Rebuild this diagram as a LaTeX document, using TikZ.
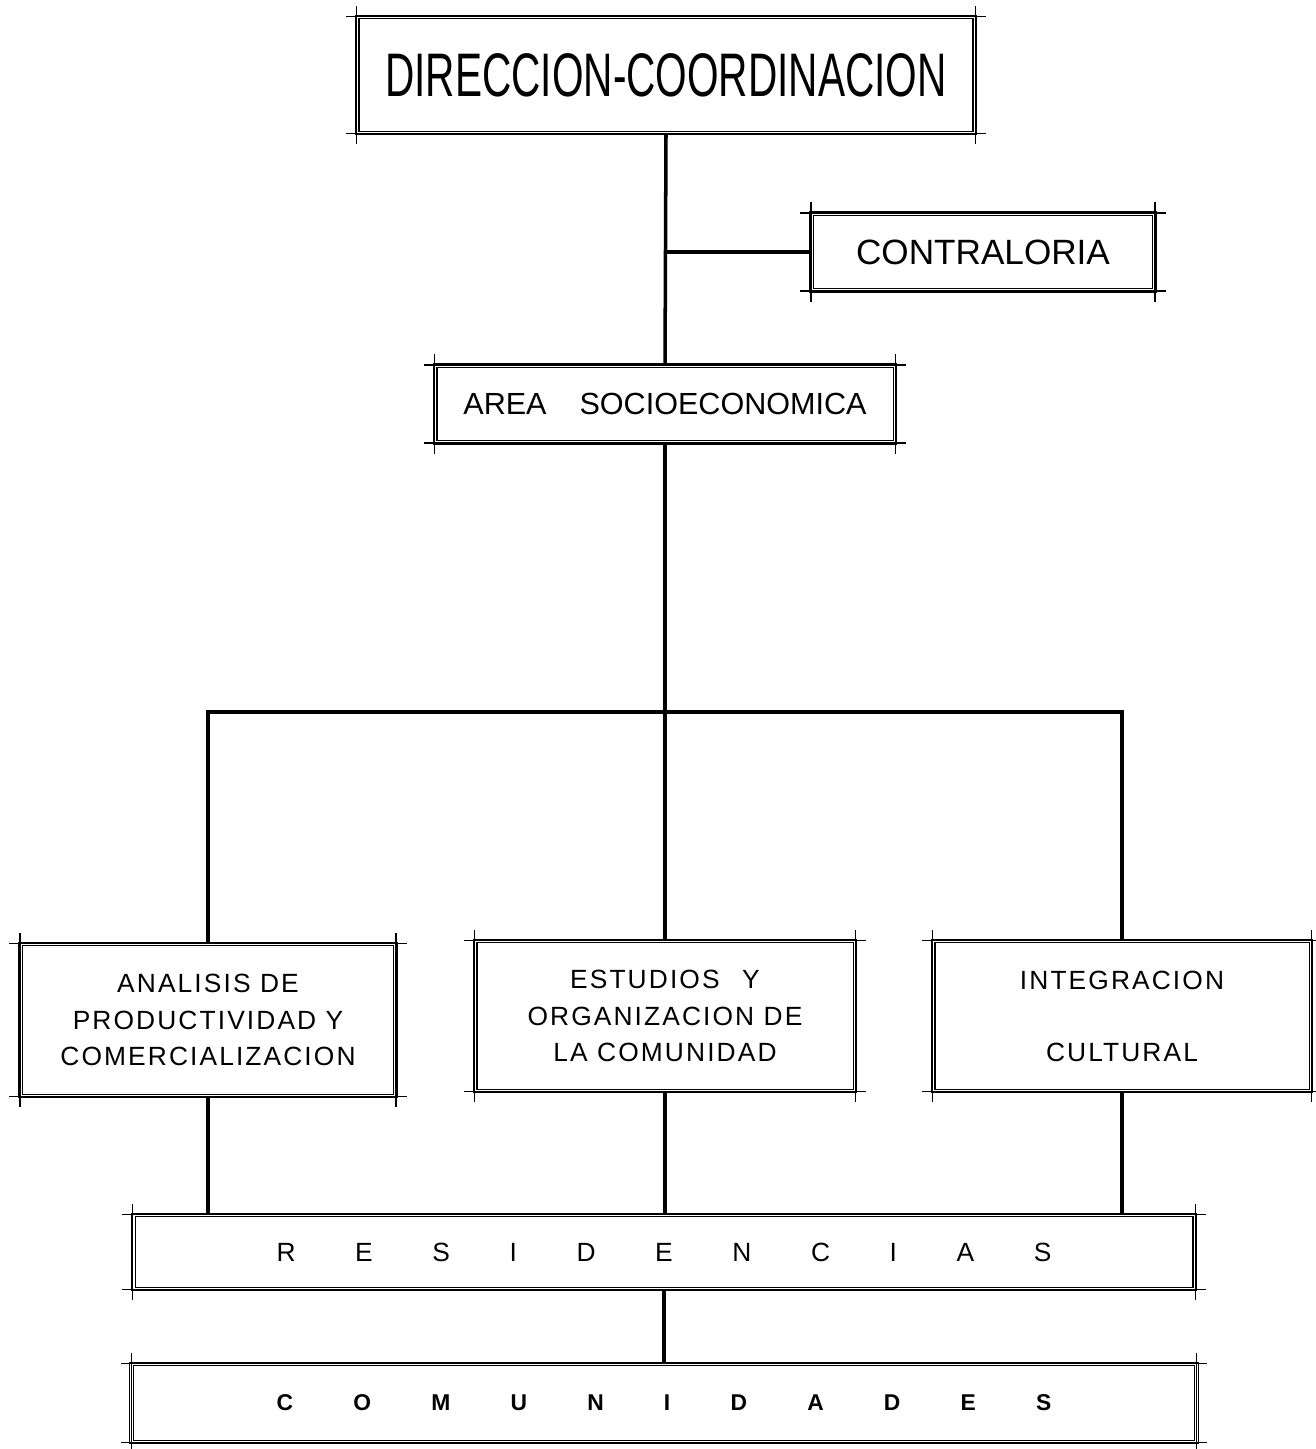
\documentclass[tikz,border=0pt]{standalone}
\usepackage{fontspec}
\setmainfont{Liberation Sans}
\newfontfamily\narrowfont[FakeStretch=0.66]{Liberation Sans}
\newfontfamily\spacedfont[LetterSpace=8]{Liberation Sans}
\tikzset{
  unit/.style={draw, double, line width=0.6pt, double distance=1.6pt, inner sep=0pt, align=center},
  smallunit/.style={unit, font=\spacedfont\fontsize{15}{21}\selectfont},
  link/.style={line width=2pt},
  tick/.style={line width=0.6pt}
}

\begin{document}
\begin{tikzpicture}[x=0.02cm, y=-0.02cm]
\useasboundingbox (0,0) rectangle (1315,1449);
% boxes
\node[unit, minimum width=12.36cm, minimum height=2.32cm, font=\narrowfont\fontsize{35}{40}\selectfont] (dir) at (666,75) {DIRECCION-COORDINACION};
\node[unit, minimum width=6.86cm, minimum height=1.54cm, font=\fontsize{20}{24}\selectfont] (con) at (983,252) {CONTRALORIA};
\node[unit, minimum width=9.2cm, minimum height=1.54cm, font=\fontsize{17.4}{20}\selectfont] (area) at (665,404) {AREA\hspace{0.8em} SOCIOECONOMICA};
\node[smallunit, minimum width=7.5cm, minimum height=3.04cm] (ana) at (208,1020) {ANALISIS DE\\ PRODUCTIVIDAD Y\\ COMERCIALIZACION};
\node[smallunit, minimum width=7.6cm, minimum height=3.0cm] (est) at (665,1016) {ESTUDIOS\hspace{0.5em} Y\\ ORGANIZACION DE\\ LA COMUNIDAD};
\node[smallunit, minimum width=7.56cm, minimum height=3.0cm] (int) at (1122,1016) {INTEGRACION\\[20pt] CULTURAL};
\node[unit, minimum width=21.24cm, minimum height=1.48cm, font=\fontsize{15}{18}\selectfont] (res) at (664,1252) {\hbox to 15.5cm{R\hfill E\hfill S\hfill I\hfill D\hfill E\hfill N\hfill C\hfill I\hfill A\hfill S}};
\node[unit, minimum width=21.3cm, minimum height=1.56cm, font=\bfseries\fontsize{13}{16}\selectfont] (com) at (664,1403) {\hbox to 15.5cm{C\hfill O\hfill M\hfill U\hfill N\hfill I\hfill D\hfill A\hfill D\hfill E\hfill S}};
% corner ticks
\foreach \n in {dir,con,area,ana,est,int,res,com}{
  \draw[tick] ([xshift=-6pt]\n.north west) -- ([xshift=6pt]\n.north east);
  \draw[tick] ([xshift=-6pt]\n.south west) -- ([xshift=6pt]\n.south east);
  \draw[tick] ([yshift=6pt]\n.north west) -- ([yshift=-6pt]\n.south west);
  \draw[tick] ([yshift=6pt]\n.north east) -- ([yshift=-6pt]\n.south east);
}
% connectors
\coordinate (bus) at (665,712);
\draw[link] (dir.south) -- (area.north);
\draw[link] (dir.south |- con.west) -- (con.west);
\draw[link] (area.south) -- (bus);
\draw[link] (ana.north) |- (bus) -| (int.north);
\draw[link] (bus) -- (est.north);
\foreach \n in {ana,est,int}{\draw[link] (\n.south) -- (\n.south |- res.north);}
\draw[link] (res.south) -- (com.north);
\end{tikzpicture}
\end{document}
